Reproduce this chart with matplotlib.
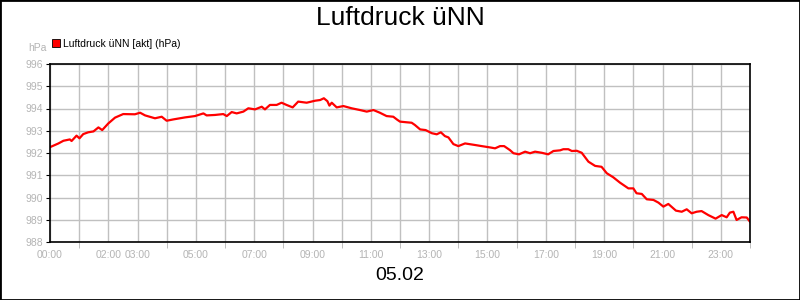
import matplotlib
matplotlib.use("Agg")
import matplotlib.pyplot as plt
import matplotlib.patches as mpatches
import matplotlib.ticker as ticker

plt.rcParams['font.family'] = ['Liberation Sans', 'DejaVu Sans']

# time in hours since 00:00, pressure in hPa
hours = [0.03, 0.29, 0.46, 0.57, 0.68, 0.74, 0.91, 1.01, 1.14, 1.31, 1.49, 1.66, 1.79,
         2.0, 2.23, 2.51, 2.91, 3.09, 3.26, 3.6, 3.83, 4.0, 4.23, 4.63, 4.97, 5.26,
         5.37, 5.66, 5.94, 6.06, 6.23, 6.4, 6.63, 6.8, 7.03, 7.26, 7.37, 7.54, 7.77,
         7.94, 8.11, 8.32, 8.51, 8.8, 9.09, 9.26, 9.39, 9.51, 9.58, 9.66, 9.83, 10.06,
         10.34, 10.63, 10.86, 11.09, 11.31, 11.54, 11.77, 11.9, 12.0, 12.23, 12.4,
         12.51, 12.69, 12.88, 13.09, 13.26, 13.4, 13.54, 13.66, 13.83, 14.0, 14.23,
         14.57, 14.8, 15.09, 15.26, 15.43, 15.57, 15.77, 15.89, 16.08, 16.29, 16.46,
         16.63, 16.86, 17.08, 17.26, 17.49, 17.6, 17.77, 17.89, 18.06, 18.23, 18.46,
         18.69, 18.91, 19.09, 19.31, 19.54, 19.83, 20.0, 20.11, 20.29, 20.46, 20.69,
         20.86, 21.03, 21.2, 21.46, 21.66, 21.83, 22.0, 22.17, 22.34, 22.57, 22.82,
         23.03, 23.2, 23.31, 23.43, 23.54, 23.71, 23.89, 24.0]
pressure = [992.28, 992.43, 992.55, 992.58, 992.61, 992.54, 992.78, 992.66, 992.85,
            992.93, 992.97, 993.15, 993.03, 993.33, 993.59, 993.75, 993.74, 993.81,
            993.69, 993.56, 993.63, 993.45, 993.51, 993.6, 993.66, 993.78, 993.69,
            993.71, 993.75, 993.66, 993.84, 993.78, 993.86, 994.01, 993.96, 994.08,
            993.96, 994.16, 994.16, 994.26, 994.16, 994.05, 994.31, 994.26, 994.35,
            994.38, 994.46, 994.33, 994.13, 994.26, 994.05, 994.11, 994.01, 993.93,
            993.86, 993.93, 993.81, 993.66, 993.63, 993.5, 993.41, 993.38, 993.36,
            993.26, 993.06, 993.03, 992.89, 992.84, 992.93, 992.76, 992.7, 992.4,
            992.31, 992.43, 992.36, 992.31, 992.25, 992.21, 992.31, 992.31, 992.13,
            991.99, 991.94, 992.06, 991.99, 992.06, 992.01, 991.94, 992.09, 992.12,
            992.17, 992.17, 992.09, 992.1, 992.01, 991.61, 991.42, 991.38, 991.09,
            990.91, 990.67, 990.41, 990.41, 990.19, 990.16, 989.92, 989.89, 989.77,
            989.59, 989.71, 989.41, 989.36, 989.47, 989.29, 989.36, 989.39, 989.21,
            989.05, 989.21, 989.11, 989.32, 989.36, 988.99, 989.11, 989.1, 988.91]

label_hours = [0, 2, 3, 5, 7, 9, 11, 13, 15, 17, 19, 21, 23]
y_ticks = [988, 989, 990, 991, 992, 993, 994, 995, 996]

gray = '#b4b4b4'

fig = plt.figure(figsize=(8, 3), dpi=100)
ax = fig.add_axes([50 / 800, 1 - 242 / 300, 700 / 800, 178 / 300])

ax.plot(hours, pressure, color='#ff0000', linewidth=1.6)

ax.set_xlim(0, 24)
ax.set_ylim(988, 996)

ax.xaxis.set_major_locator(ticker.FixedLocator(label_hours))
ax.xaxis.set_major_formatter(ticker.FuncFormatter(lambda h, p: f'{int(h):02d}:00'))
ax.xaxis.set_minor_locator(ticker.FixedLocator([h for h in range(1, 25) if h not in label_hours]))
ax.set_yticks(y_ticks)

ax.grid(True, which='both', color='#c0c0c0', linewidth=1)
ax.set_axisbelow(True)
ax.tick_params(axis='x', which='major', length=0, pad=6, labelsize=7.5, labelcolor=gray)
ax.tick_params(axis='x', which='minor', length=4, color=gray)
ax.tick_params(axis='y', length=3, pad=2, labelsize=7.5, labelcolor=gray)
for s in ax.spines.values():
    s.set_linewidth(1.2)

fig.text(0.5, 0.94, 'Luftdruck üNN', ha='center', va='center', fontsize=19)
fig.text(0.5, 0.083, '05.02', ha='center', va='center', fontsize=14)
fig.text(47 / 800, 1 - 48 / 300, 'hPa', ha='right', va='center', fontsize=7.5, color=gray)

handle = mpatches.Patch(facecolor='#ff0000', edgecolor='black', linewidth=0.6,
                        label='Luftdruck üNN [akt] (hPa)')
fig.legend(handles=[handle], loc='center left', bbox_to_anchor=(52 / 800, 1 - 44 / 300),
           frameon=False, fontsize=7.5, handlelength=0.8, handleheight=0.8,
           handletextpad=0.3, borderpad=0, borderaxespad=0)

fig.add_artist(mpatches.Rectangle((0, 0), 1, 1, transform=fig.transFigure,
                                  fill=False, edgecolor='black', linewidth=2))

fig.savefig('out.png', dpi=100)
